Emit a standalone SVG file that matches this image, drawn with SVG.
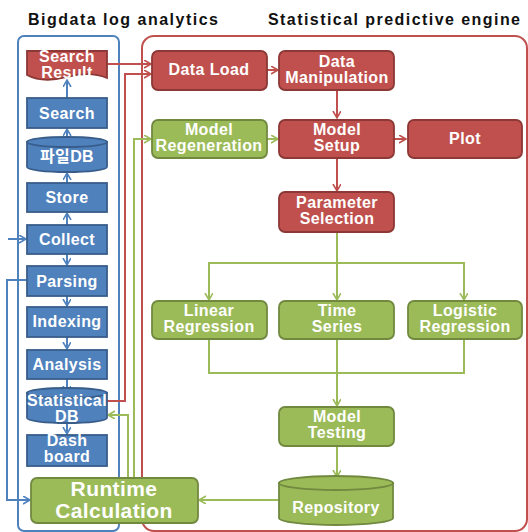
<svg xmlns="http://www.w3.org/2000/svg" width="528" height="532" viewBox="0 0 528 532">
<defs>
<style>
.title{font-family:"Liberation Sans",Arial,sans-serif;font-weight:bold;font-size:16px;fill:#111}
.t{font-family:"Liberation Sans","Noto Sans CJK KR",Arial,sans-serif;font-weight:bold;font-size:16px;fill:#fff;text-anchor:middle;letter-spacing:0.4px}
.big{font-size:21px;letter-spacing:0.4px}
.blue{fill:#4F81BD;stroke:#385D8A;stroke-width:1.8}
.red{fill:#C0504D;stroke:#8C3836;stroke-width:1.8}
.green{fill:#9BBB59;stroke:#71893F;stroke-width:1.8}
.cb{fill:none;stroke:#4F81BD;stroke-width:2}
.cr{fill:none;stroke:#C0504D;stroke-width:2}
.cg{fill:none;stroke:#9BBB59;stroke-width:2}
</style>
<marker id="ab" markerUnits="userSpaceOnUse" markerWidth="10" markerHeight="10" refX="7" refY="4" orient="auto"><path d="M0,0 L7,4 L0,8" fill="none" stroke="#4F81BD" stroke-width="1.6"/></marker>
<marker id="ar" markerUnits="userSpaceOnUse" markerWidth="10" markerHeight="10" refX="7" refY="4" orient="auto"><path d="M0,0 L7,4 L0,8" fill="none" stroke="#C0504D" stroke-width="1.6"/></marker>
<marker id="ag" markerUnits="userSpaceOnUse" markerWidth="10" markerHeight="10" refX="7" refY="4" orient="auto"><path d="M0,0 L7,4 L0,8" fill="none" stroke="#9BBB59" stroke-width="1.6"/></marker>
</defs>
<rect width="528" height="532" fill="#fff"/>
<text class="title" x="28" y="25" textLength="190" lengthAdjust="spacing">Bigdata log analytics</text>
<text class="title" x="268" y="25" textLength="252" lengthAdjust="spacing">Statistical predictive engine</text>
<g id="containers">
<rect x="18" y="36" width="101" height="495" rx="6" fill="none" stroke="#4F81BD" stroke-width="2"/>
<rect x="142" y="36" width="385" height="495" rx="12" fill="none" stroke="#C0504D" stroke-width="2"/>
</g>
<g id="connectors">
<line class="cb" x1="67" y1="225" x2="67" y2="213" marker-end="url(#ab)"/>
<line class="cb" x1="67" y1="183" x2="67" y2="173" marker-end="url(#ab)"/>
<line class="cb" x1="67" y1="137" x2="67" y2="129" marker-end="url(#ab)"/>
<line class="cb" x1="67" y1="98" x2="67" y2="80" marker-end="url(#ab)"/>
<line class="cb" x1="67" y1="254" x2="67" y2="265" marker-end="url(#ab)"/>
<line class="cb" x1="67" y1="296" x2="67" y2="306" marker-end="url(#ab)"/>
<line class="cb" x1="67" y1="337" x2="67" y2="349" marker-end="url(#ab)"/>
<line class="cb" x1="67" y1="379" x2="67" y2="393" marker-end="url(#ab)"/>
<line class="cb" x1="67" y1="423" x2="67" y2="434" marker-end="url(#ab)"/>
<line class="cb" x1="8" y1="239" x2="26" y2="239" marker-end="url(#ab)"/>
<polyline class="cb" points="27,280 7,280 7,500 30,500" marker-end="url(#ab)"/>
<line class="cr" x1="107" y1="64" x2="151" y2="64" marker-end="url(#ar)"/>
<polyline class="cr" points="107,401 125,401 125,74 151,74" marker-end="url(#ar)"/>
<polyline class="cg" points="128,478 128,415 108,415" marker-end="url(#ag)"/>
<polyline class="cg" points="134,478 134,139 151,139" marker-end="url(#ag)"/>
<line class="cr" x1="267" y1="70" x2="278" y2="70" marker-end="url(#ar)"/>
<line class="cr" x1="337" y1="90" x2="337" y2="118" marker-end="url(#ar)"/>
<line class="cg" x1="267" y1="139" x2="278" y2="139" marker-end="url(#ag)"/>
<line class="cr" x1="394" y1="139" x2="406" y2="139" marker-end="url(#ar)"/>
<line class="cr" x1="337" y1="158" x2="337" y2="191" marker-end="url(#ar)"/>
<line class="cg" x1="337" y1="232" x2="337" y2="300" marker-end="url(#ag)"/>
<polyline class="cg" points="209,300 209,263 464,263 464,300" marker-end="url(#ag)"/>
<line class="cg" x1="209" y1="263" x2="209" y2="300" marker-end="url(#ag)"/>
<polyline class="cg" points="209,339 209,373 464,373 464,339"/>
<line class="cg" x1="337" y1="339" x2="337" y2="406" marker-end="url(#ag)"/>
<line class="cg" x1="337" y1="446" x2="337" y2="477" marker-end="url(#ag)"/>
<line class="cg" x1="279" y1="500" x2="199" y2="500" marker-end="url(#ag)"/>
</g>
<g id="search-result"><path class="red" d="M27,51 H107 V78 C95,73 82,73 67,77 C52,81 38,81 27,75 Z"/><text class="t" x="67" y="61.5">Search</text><text class="t" x="67" y="77.5">Result</text></g>
<g id="search"><rect class="blue" x="27" y="98" width="80" height="30"/><text class="t" x="67" y="119">Search</text></g>
<g id="file-db"><path class="blue" d="M27,142 V167 A40,5 0 0 0 107,167 V142 Z"/><ellipse class="blue" cx="67" cy="142" rx="40" ry="5"/><text class="t" x="67" y="162">파일DB</text></g>
<g id="store"><rect class="blue" x="27" y="183" width="80" height="29"/><text class="t" x="67" y="203">Store</text></g>
<g id="collect"><rect class="blue" x="27" y="225" width="80" height="29"/><text class="t" x="67" y="245">Collect</text></g>
<g id="parsing"><rect class="blue" x="27" y="266" width="80" height="30"/><text class="t" x="67" y="287">Parsing</text></g>
<g id="indexing"><rect class="blue" x="27" y="307" width="80" height="30"/><text class="t" x="67" y="327">Indexing</text></g>
<g id="analysis"><rect class="blue" x="27" y="350" width="80" height="29"/><text class="t" x="67" y="370">Analysis</text></g>
<g id="statistical-db"><path class="blue" d="M27,393 V418 A40,5 0 0 0 107,418 V393 Z"/><ellipse class="blue" cx="67" cy="393" rx="40" ry="5"/><text class="t" x="67" y="406">Statistical</text><text class="t" x="67" y="422">DB</text></g>
<g id="dashboard"><rect class="blue" x="27" y="435" width="80" height="31"/><text class="t" x="67" y="446">Dash</text><text class="t" x="67" y="462">board</text></g>
<g id="runtime-calculation"><rect class="green" x="31" y="478" width="167" height="45" rx="6"/><text class="t big" x="114" y="496">Runtime</text><text class="t big" x="114" y="518">Calculation</text></g>
<g id="data-load"><rect class="red" x="152" y="51" width="115" height="39" rx="6"/><text class="t" x="209" y="75">Data Load</text></g>
<g id="data-manipulation"><rect class="red" x="279" y="51" width="115" height="39" rx="6"/><text class="t" x="337" y="66.5">Data</text><text class="t" x="337" y="82.5">Manipulation</text></g>
<g id="model-regeneration"><rect class="green" x="152" y="120" width="115" height="38" rx="6"/><text class="t" x="209" y="135">Model</text><text class="t" x="209" y="151">Regeneration</text></g>
<g id="model-setup"><rect class="red" x="279" y="120" width="115" height="38" rx="6"/><text class="t" x="337" y="134.5">Model</text><text class="t" x="337" y="150.5">Setup</text></g>
<g id="plot"><rect class="red" x="408" y="120" width="114" height="38" rx="6"/><text class="t" x="465" y="144">Plot</text></g>
<g id="parameter-selection"><rect class="red" x="279" y="192" width="115" height="40" rx="6"/><text class="t" x="337" y="207.5">Parameter</text><text class="t" x="337" y="223.5">Selection</text></g>
<g id="linear-regression"><rect class="green" x="152" y="301" width="115" height="38" rx="6"/><text class="t" x="209" y="316">Linear</text><text class="t" x="209" y="332">Regression</text></g>
<g id="time-series"><rect class="green" x="279" y="301" width="115" height="38" rx="6"/><text class="t" x="337" y="316">Time</text><text class="t" x="337" y="332">Series</text></g>
<g id="logistic-regression"><rect class="green" x="408" y="301" width="114" height="38" rx="6"/><text class="t" x="465" y="316">Logistic</text><text class="t" x="465" y="332">Regression</text></g>
<g id="model-testing"><rect class="green" x="279" y="407" width="115" height="39" rx="6"/><text class="t" x="337" y="422">Model</text><text class="t" x="337" y="438">Testing</text></g>
<g id="repository"><path class="green" d="M279,483 V518 A57,7 0 0 0 393,518 V483 Z"/><ellipse class="green" cx="336" cy="483" rx="57" ry="7"/><text class="t" x="336" y="513">Repository</text></g>
</svg>
